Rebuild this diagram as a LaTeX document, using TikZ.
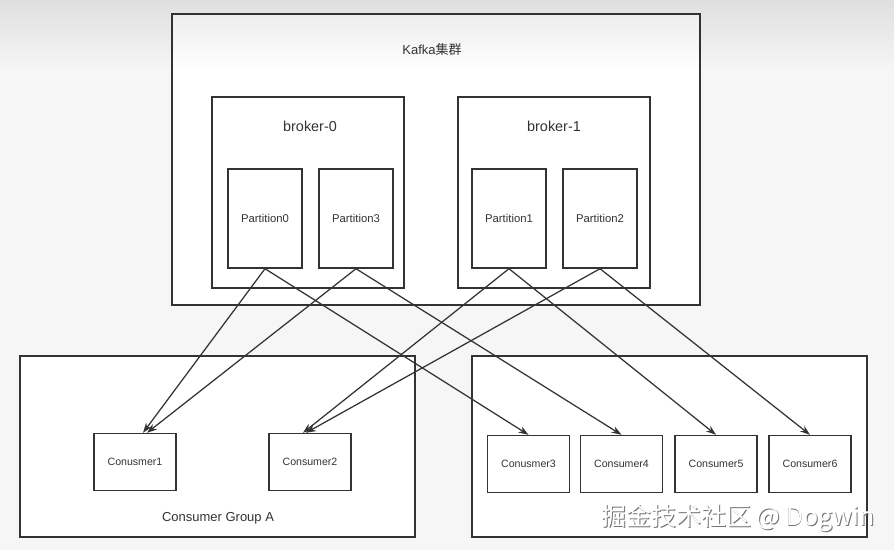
\documentclass[tikz,border=0pt]{standalone}
\usepackage{fontspec}
\setmainfont{Liberation Sans}
\newfontfamily\cjk{Noto Sans CJK SC}
\usetikzlibrary{arrows.meta,fadings}
\definecolor{ln}{HTML}{333333}
\definecolor{bg}{HTML}{F6F6F6}
\tikzset{
  box/.style={draw=ln, line width=1.4pt, fill=white, rectangle, inner sep=0pt},
  part/.style={box, minimum width=74pt, minimum height=99pt, font=\fontsize{11.3}{12}\selectfont, text=black!80},
  cons/.style={box, minimum width=82pt, minimum height=57pt, font=\fontsize{10.6}{12}\selectfont, text=black!80},
  lbl/.style={font=\fontsize{13}{15}\selectfont, text=black!80, inner sep=0pt},
  conn/.style={draw=ln, line width=1.25pt, -{Stealth[length=10pt,width=7pt]}}
}
\begin{document}
\begin{tikzpicture}[x=1pt,y=-1pt]
\useasboundingbox (0,0) rectangle (894,550);
\fill[bg] (0,0) rectangle (894,550);
% clusters
\node[box, minimum width=528pt, minimum height=291pt] (kafka) at (436,159.5) {};
\node[box, minimum width=192pt, minimum height=191pt] (b0) at (308,192.5) {};
\node[box, minimum width=192pt, minimum height=191pt] (b1) at (554,192.5) {};
\node[box, minimum width=395pt, minimum height=181pt] (ga) at (217.5,446.5) {};
\node[box, minimum width=395pt, minimum height=181pt] (gb) at (669.5,446.5) {};
% top haze
\fill[black, opacity=0.09, path fading=south] (0,0) rectangle (894,70);
\draw[ln, line width=1.4pt] (kafka.north west) rectangle (kafka.south east);
% labels
\node[lbl] (lk) at (432,50) {Kafka{\cjk 集群}};
\node[lbl, font=\fontsize{14.4}{16}\selectfont] (lb0) at (310,126) {broker-0};
\node[lbl, font=\fontsize{14.4}{16}\selectfont] (lb1) at (554,126) {broker-1};
\node[lbl] (lga) at (218,518) {Consumer Group A};
% partitions
\node[part] (p0) at (265,218.5) {Partition0};
\node[part] (p3) at (356,218.5) {Partition3};
\node[part] (p1) at (509,218.5) {Partition1};
\node[part] (p2) at (600,218.5) {Partition2};
% consumers
\node[cons] (c1) at (135,462) {Conusmer1};
\node[cons] (c2) at (310,462) {Consumer2};
\node[cons] (c3) at (528.5,464) {Conusmer3};
\node[cons] (c4) at (621.5,464) {Consumer4};
\node[cons] (c5) at (716,464) {Consumer5};
\node[cons] (c6) at (810,464) {Consumer6};
% connectors
\draw[conn] (p0.south) -- ([xshift=8pt]c1.north);
\draw[conn] (p3.south) -- ([xshift=12pt]c1.north);
\draw[conn] (p1.south) -- ([xshift=-7pt]c2.north);
\draw[conn] (p2.south) -- ([xshift=-4pt]c2.north);
\draw[conn] (p0.south) -- (c3.north);
\draw[conn] (p3.south) -- (c4.north);
\draw[conn] (p1.south) -- (c5.north);
\draw[conn] (p2.south) -- (c6.north);
% watermark
\node[font=\cjk\fontsize{25}{28}\selectfont, text=black!55, inner sep=0pt] (wms) at (738.8,518.8) {掘金技术社区 @ Dogwin};
\node[font=\cjk\fontsize{25}{28}\selectfont, text=white, inner sep=0pt] (wm) at (738,518) {掘金技术社区 @ Dogwin};
\end{tikzpicture}
\end{document}
